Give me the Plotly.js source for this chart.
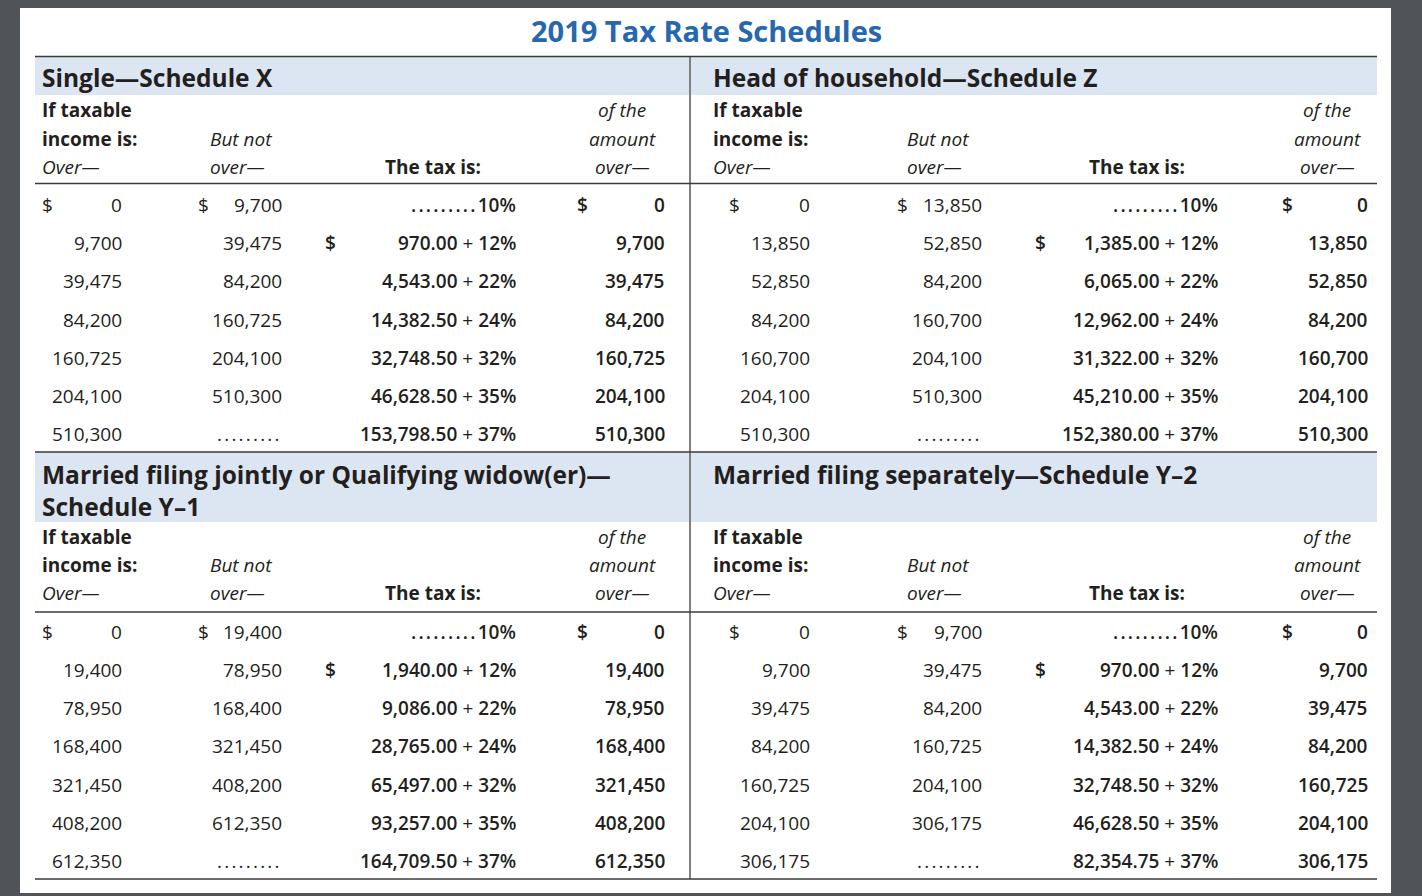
<!DOCTYPE html>
<html><head><meta charset="utf-8">
<script src="https://cdn.plot.ly/plotly-3.0.1.min.js"></script>
<style>html,body{margin:0;padding:0;background:#505357;overflow:hidden}</style>
</head><body><div id="chart" style="width:1422px;height:896px"></div>
<script>
// ---------------- DATA ----------------
const chartTitle = '2019 Tax Rate Schedules';
const scheduleNames = [
  'Single—Schedule X',
  'Head of household—Schedule Z',
  'Married filing jointly or Qualifying widow(er)—<br>Schedule Y–1',
  'Married filing separately—Schedule Y–2'
];
const rates = [10, 12, 22, 24, 32, 35, 37];

const singleOver     = [0, 9700, 39475, 84200, 160725, 204100, 510300];
const singleNotOver  = [9700, 39475, 84200, 160725, 204100, 510300, null];
const singleBaseTax  = [null, 970.00, 4543.00, 14382.50, 32748.50, 46628.50, 153798.50];

const hohOver        = [0, 13850, 52850, 84200, 160700, 204100, 510300];
const hohNotOver     = [13850, 52850, 84200, 160700, 204100, 510300, null];
const hohBaseTax     = [null, 1385.00, 6065.00, 12962.00, 31322.00, 45210.00, 152380.00];

const mfjOver        = [0, 19400, 78950, 168400, 321450, 408200, 612350];
const mfjNotOver     = [19400, 78950, 168400, 321450, 408200, 612350, null];
const mfjBaseTax     = [null, 1940.00, 9086.00, 28765.00, 65497.00, 93257.00, 164709.50];

const mfsOver        = [0, 9700, 39475, 84200, 160725, 204100, 306175];
const mfsNotOver     = [9700, 39475, 84200, 160725, 204100, 306175, null];
const mfsBaseTax     = [null, 970.00, 4543.00, 14382.50, 32748.50, 46628.50, 82354.75];

const headerLeft  = ['If taxable', 'income is:', 'Over—'];
const headerNot   = ['But not', 'over—'];
const headerTax   = 'The tax is:';
const headerOfAmt = ['of the', 'amount', 'over—'];

// ---------------- LAYOUT / STYLE ----------------
const W = 1422, H = 896;
const FONT = '"Open Sans", "Noto Sans", sans-serif';
const INK = '#231f20';
const BAND = '#dce6f2';
const BLUE = '#2767ad';
const PADL = -2, PADR = 1;

const leftCols  = {name: 43, h1: 43, c1d: 43, c1r: 122, c2d: 199, c2r: 282, c2h: 211, c3d: 326, c3r: 516, c3h: 481, c4d: 578, c4r: 665, c4h: 622};
const rightCols = {name: 714, h1: 714, c1d: 730, c1r: 810, c2d: 898, c2r: 982, c2h: 908, c3d: 1036, c3r: 1218, c3h: 1185, c4d: 1283, c4r: 1368, c4h: 1327};

const sections = [
  {top: 56.5, bandBot: 95, hY: [110, 139, 167], under: 183.5, row0: 205, step: 38.2},
  {top: 452, bandBot: 522, hY: [537, 565, 593], under: 612, row0: 631.5, step: 38.3}
];

const panels = [
  {cols: leftCols,  sec: 0, nameY: 77,  name: scheduleNames[0], over: singleOver, not: singleNotOver, base: singleBaseTax},
  {cols: rightCols, sec: 0, nameY: 77,  name: scheduleNames[1], over: hohOver,    not: hohNotOver,    base: hohBaseTax},
  {cols: leftCols,  sec: 1, nameY: 490, name: scheduleNames[2], over: mfjOver,    not: mfjNotOver,    base: mfjBaseTax},
  {cols: rightCols, sec: 1, nameY: 474, name: scheduleNames[3], over: mfsOver,    not: mfsNotOver,    base: mfsBaseTax}
];

const fmtInt = v => v.toLocaleString('en-US');
const fmtMoney = v => v.toLocaleString('en-US', {minimumFractionDigits: 2, maximumFractionDigits: 2});

const annotations = [];
function txt(x, y, text, xanchor, st) {
  st = st || {};
  const dx = xanchor === 'left' ? PADL : (xanchor === 'right' ? PADR : 0);
  annotations.push({
    xref: 'x', yref: 'y', x: x + dx, y: y, text: text, xanchor: xanchor, yanchor: 'middle',
    showarrow: false, align: 'left', borderpad: 0,
    font: {family: FONT, size: st.size || 19, color: st.color || INK,
           weight: st.weight || 400, style: st.italic ? 'italic' : 'normal'}
  });
}
const BOLD = 600;
const PLUS = ' <span style="font-weight:400">+</span> ';
const DOTS = '<span style="letter-spacing:2.2px">.........</span>';

// title
txt(706, 30, chartTitle, 'center', {size: 29, weight: 700, color: BLUE});

panels.forEach(p => {
  const c = p.cols, s = sections[p.sec];
  txt(c.name, p.nameY, p.name, 'left', {size: 24.5, weight: 700});
  // column headers
  txt(c.h1, s.hY[0], headerLeft[0], 'left', {weight: 700});
  txt(c.h1, s.hY[1], headerLeft[1], 'left', {weight: 700});
  txt(c.h1, s.hY[2], headerLeft[2], 'left', {italic: true});
  txt(c.c2h, s.hY[1], headerNot[0], 'left', {italic: true});
  txt(c.c2h, s.hY[2], headerNot[1], 'left', {italic: true});
  txt(c.c3h, s.hY[2], headerTax, 'right', {weight: 700});
  headerOfAmt.forEach((h, k) => txt(c.c4h, s.hY[k], h, 'center', {italic: true}));
  // rows
  p.over.forEach((ov, i) => {
    const y = s.row0 + i * s.step;
    if (i === 0) txt(c.c1d, y, '$', 'left');
    txt(c.c1r, y, fmtInt(ov), 'right');
    if (p.not[i] === null) {
      txt(c.c2r, y, DOTS, 'right');
    } else {
      if (i === 0) txt(c.c2d, y, '$', 'left');
      txt(c.c2r, y, fmtInt(p.not[i]), 'right');
    }
    if (p.base[i] === null) {
      txt(c.c3r, y, DOTS + rates[i] + '%', 'right', {weight: BOLD});
    } else {
      if (i === 1) txt(c.c3d, y, '$', 'left', {weight: BOLD});
      txt(c.c3r, y, fmtMoney(p.base[i]) + PLUS + rates[i] + '%', 'right', {weight: BOLD});
    }
    if (i === 0) txt(c.c4d, y, '$', 'left', {weight: BOLD});
    txt(c.c4r, y, fmtInt(ov), 'right', {weight: BOLD});
  });
});

// shapes
const shapes = [];
function rect(x0, y0, x1, y1, fill) {
  shapes.push({type: 'rect', xref: 'x', yref: 'y', x0, y0, x1, y1, fillcolor: fill, line: {width: 0}, layer: 'below'});
}
function line(x0, y0, x1, y1, w, col) {
  shapes.push({type: 'line', xref: 'x', yref: 'y', x0, y0, x1, y1, line: {color: col || INK, width: w || 1.3}, layer: 'above'});
}
rect(20, 8, 1391, 893, '#ffffff');
const TL = 35, TR = 1377, MID = 690;
sections.forEach(s => {
  rect(TL, s.top, MID - 1, s.bandBot, BAND);
  rect(MID + 1, s.top, TR, s.bandBot, BAND);
  line(TL, s.top, TR, s.top, 1.5, '#3a3a3a');
  line(TL, s.under, TR, s.under, 1.3, '#3a3a3a');
});
line(TL, 879, TR, 879, 1.3, '#3a3a3a');
line(MID, 56, MID, 879, 1.3, '#3a3a3a');

const layout = {
  width: W, height: H,
  margin: {l: 0, r: 0, t: 0, b: 0, pad: 0},
  paper_bgcolor: '#505357', plot_bgcolor: '#505357',
  xaxis: {range: [0, W], visible: false, fixedrange: true},
  yaxis: {range: [H, 0], visible: false, fixedrange: true},
  showlegend: false,
  shapes: shapes,
  annotations: annotations
};
Plotly.newPlot('chart', [{x: [], y: [], type: 'scatter', mode: 'markers', hoverinfo: 'skip'}], layout, {staticPlot: true});
</script></body></html>
